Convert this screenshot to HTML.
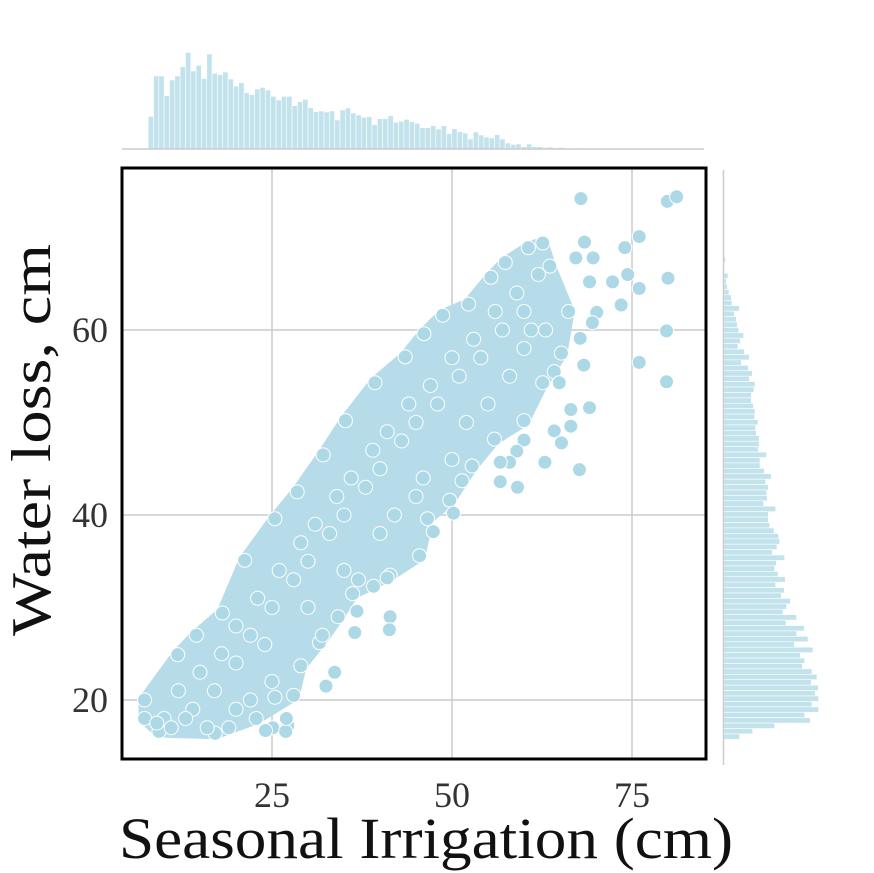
<!DOCTYPE html>
<html><head><meta charset="utf-8"><style>
html,body{margin:0;padding:0;background:#fff;}
svg{display:block;font-family:"Liberation Serif",serif;}
</style></head><body>
<svg id="chart" width="874" height="873" viewBox="0 0 874 873" xmlns="http://www.w3.org/2000/svg">
<g id="grid"></g>
<g id="band"></g>
<g id="pts"></g>
<rect x="122" y="168" width="584" height="591" fill="none" stroke="#000" stroke-width="3"/>
<g id="tophist"></g>
<g id="righthist"></g>
<line x1="122" y1="149" x2="704" y2="149" stroke="#cccccc" stroke-width="1.5"/>
<line x1="723.5" y1="170" x2="723.5" y2="765" stroke="#cccccc" stroke-width="1.5"/>
<g id="ticks" fill="#333" font-size="36"></g>
<text x="119" y="858" font-size="58" textLength="614" lengthAdjust="spacingAndGlyphs" fill="#111">Seasonal Irrigation (cm)</text>
<text transform="translate(50,440) rotate(-90)" x="0" y="0" text-anchor="middle" font-size="56" textLength="392" lengthAdjust="spacingAndGlyphs" fill="#111">Water loss, cm</text>
</svg>
<script>
const xTicks=[25,50,75];
const yTicks=[20,40,60];
const bandUpperX=[7.3,11.9,14.5,18.1,21.2,25.4,28.5,32.1,35.2,39.3,43.5,46.1,48.7,52.3,55.4,57.4,60.6,62.6,63.6];
const bandUpperY=[20.0,24.9,27.0,29.4,35.1,39.6,42.5,46.5,50.2,54.3,57.1,59.6,61.6,62.8,65.7,67.3,68.9,69.4,66.9];
const bandLowerX=[66.2,65.2,62.6,60.0,55.9,52.8,49.7,46.6,45.5,41.4,36.2,34.2,31.6,29.0,28.0,22.8,17.1,9.3,7.3];
const bandLowerY=[62.0,57.5,54.3,50.2,48.2,45.3,41.6,39.6,35.6,33.5,31.5,29.0,26.2,23.7,20.5,18.0,16.4,16.6,18.0];
const ptX=[67.9,79.9,81.2,76.0,74.0,68.4,69.6,67.2,74.4,80.0,72.3,69.1,76.0,73.5,70.1,69.5,79.8,67.8,76.0,68.3,79.8,64.2,64.9,69.1,66.5,66.5,64.2,65.2,60.0,59.0,62.9,67.7,58.0,56.7,56.7,59.1,51.4,50.2,47.4,41.0,39.1,36.8,36.5,41.4,41.3,33.7,32.5,25.4,27.2,25.1,24.1,26.9,
10,12,14,15,17,18,20,20,22,23,25,26,28,29,30,31,33,34,35,36,38,39,40,41,43,44,45,47,48,50,51,53,54,56,57,59,60,62,20,25,24,30,35,40,45,50,55,60,63,9,11,13,16,19,22,27,32,37,42,46,52,58,61];
const ptY=[74.2,73.9,74.4,70.1,68.9,69.5,67.8,67.8,66.0,65.6,65.2,65.2,64.5,62.7,61.9,60.8,59.9,59.1,56.5,56.2,54.4,55.5,54.3,51.6,51.4,49.6,49.1,47.8,48.1,46.9,45.7,44.9,45.7,45.7,43.6,43.0,43.7,40.2,38.2,33.2,32.3,29.6,27.3,29.0,27.6,23.0,21.5,20.3,17.2,17.0,16.7,16.6,
18,21,19,23,21,25,24,28,27,31,30,34,33,37,35,39,38,42,40,44,43,47,45,49,48,52,50,54,52,57,55,59,57,62,60,64,62,66,19,22,26,30,34,38,42,46,52,58,60,17.5,17,18,17,17,20,18,27,33,40,44,50,55,60];
const topHistStart=7.8, topHistBin=0.74;
const topHistCounts=[98,219,219,160,207,219,247,290,234,251,211,285,227,223,231,210,189,199,169,163,180,185,177,158,147,158,158,130,142,149,124,112,114,111,114,87,117,123,108,102,95,97,73,91,91,100,80,83,89,82,77,64,64,70,60,70,46,61,52,48,30,51,42,36,33,43,30,18,14,15,7,15,7,7,5,6,3,5,3,1,3,3,1,2];
const rightHistTop=67.9, rightHistBin=0.586;
const rightHistCounts=[5,0,0,12,7,10,15,22,24,46,31,37,40,44,59,49,42,61,76,52,73,85,76,93,90,82,82,88,93,92,102,95,97,106,106,103,128,108,108,121,142,125,133,128,130,119,155,133,133,137,150,164,167,159,145,182,157,152,162,184,155,181,172,199,188,177,218,186,241,218,252,211,267,229,242,235,264,279,262,283,274,284,264,284,242,259,152,86,47];

const NS='http://www.w3.org/2000/svg';
const X0=122,X1=706,Y0=168,Y1=759;
const sx=v=>92+v*7.2;
const sy=v=>885-v*9.25;
function mk(tag,parent,attrs){const e=document.createElementNS(NS,tag);for(const k in attrs)e.setAttribute(k,attrs[k]);parent.appendChild(e);return e;}
const grid=document.getElementById('grid');
xTicks.forEach(t=>{const l=mk('line',grid,{x1:sx(t),x2:sx(t),y1:Y0,y2:Y1,stroke:'#cccccc','stroke-width':1.5});

});
yTicks.forEach(t=>{const l=mk('line',grid,{x1:X0,x2:X1,y1:sy(t),y2:sy(t),stroke:'#cccccc','stroke-width':1.5});

});
const ticks=document.getElementById('ticks');
xTicks.forEach(t=>{const e=mk('text',ticks,{x:sx(t),y:807,'text-anchor':'middle'});e.textContent=t;

});
yTicks.forEach(t=>{const e=mk('text',ticks,{x:108,y:sy(t)+12,'text-anchor':'end'});e.textContent=t;

});
const band=document.getElementById('band');
let pts=[];
for(let i=0;i<bandUpperX.length;i++)pts.push(sx(bandUpperX[i])+','+sy(bandUpperY[i]));
for(let i=0;i<bandLowerX.length;i++)pts.push(sx(bandLowerX[i])+','+sy(bandLowerY[i]));
const poly=mk('polygon',band,{points:pts.join(' '),fill:'#b6dce9',stroke:'#b6dce9','stroke-width':12,'stroke-linejoin':'round'});


const pg=document.getElementById('pts');
function dot(x,y){const c=mk('circle',pg,{cx:sx(x),cy:sy(y),r:7,fill:'#add8e6',stroke:'#fff','stroke-width':1});

}
bandUpperX.forEach((x,i)=>dot(x,bandUpperY[i]));
bandLowerX.forEach((x,i)=>dot(x,bandLowerY[i]));
ptX.forEach((x,i)=>dot(x,ptY[i]));
const th=document.getElementById('tophist');
const hs=1/3;
topHistCounts.forEach((c,i)=>{const x=sx(topHistStart+i*topHistBin);const w=topHistBin*7.2;const h=c*hs;
const r=mk('rect',th,{x:x,y:149-h,width:w,height:h,fill:'#add8e6','fill-opacity':0.75,stroke:'#fff','stroke-width':0.6});

});
const rh=document.getElementById('righthist');
rightHistCounts.forEach((c,i)=>{const y=sy(rightHistTop-i*rightHistBin);const hh=rightHistBin*9.25;const w=c*hs;
const r=mk('rect',rh,{x:724,y:y,width:w,height:hh,fill:'#add8e6','fill-opacity':0.75,stroke:'#fff','stroke-width':0.6});

});
</script>
</body></html>
